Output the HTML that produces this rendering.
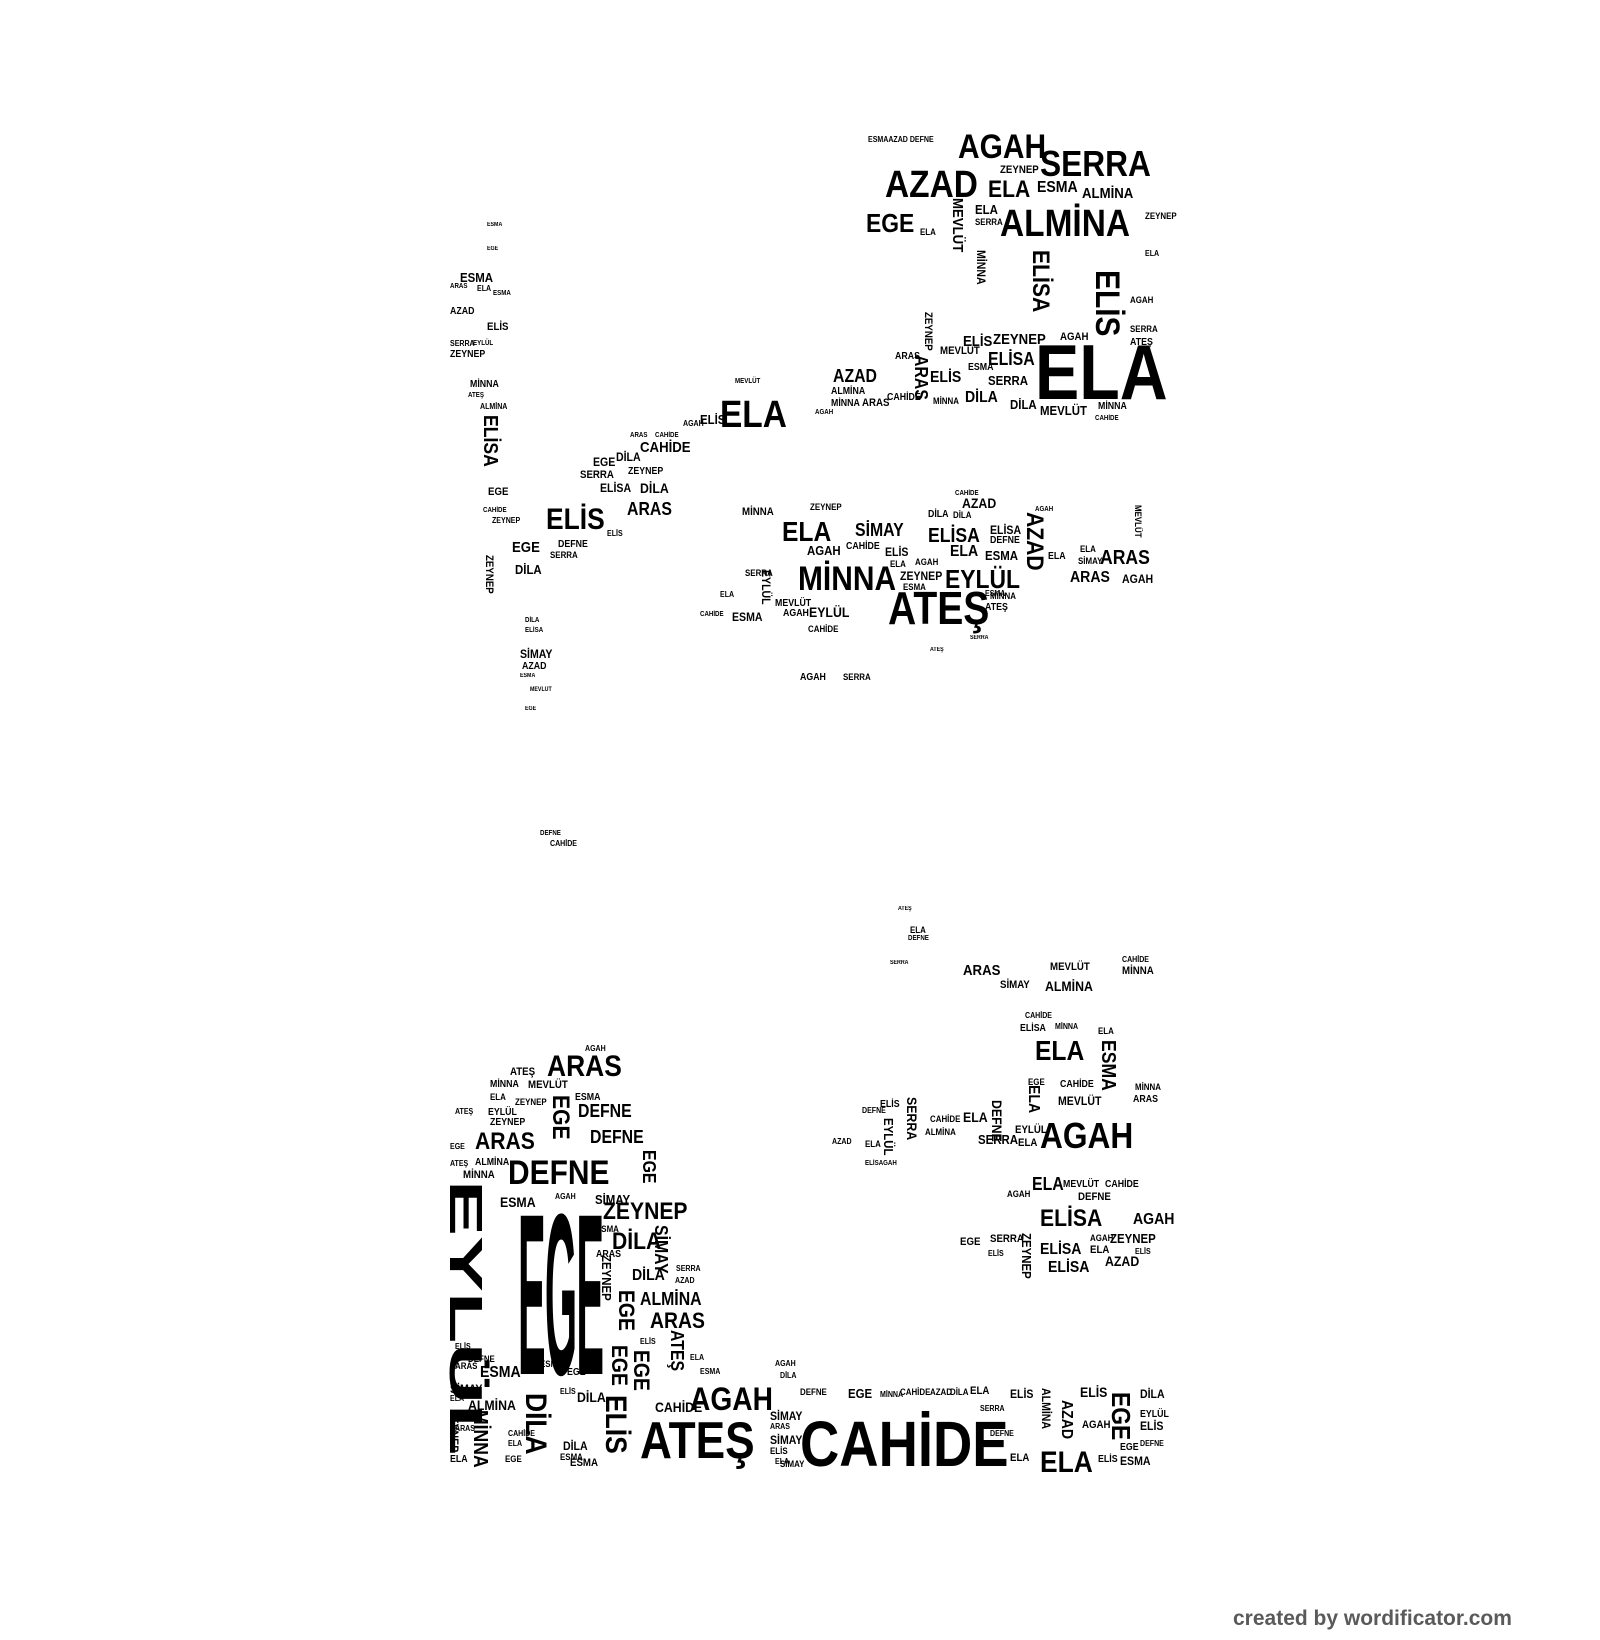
<!DOCTYPE html>
<html><head><meta charset="utf-8">
<style>
html,body{margin:0;padding:0;background:#fff}
body{width:1600px;height:1640px;position:relative;overflow:hidden;font-family:"Liberation Sans Narrow","Liberation Sans",sans-serif;font-weight:bold;color:#000}
.w{position:absolute;line-height:1;white-space:nowrap;transform:scaleX(.88);transform-origin:0 0}
.v{writing-mode:vertical-rl;transform:scaleY(.88)}
</style></head><body>
<!-- top cluster -->
<div class="w" style="left:958px;top:130px;font-size:34px">AGAH</div>
<div class="w" style="left:1040px;top:146px;font-size:36px">SERRA</div>
<div class="w" style="left:885px;top:166px;font-size:38px">AZAD</div>
<div class="w" style="left:988px;top:178px;font-size:24px">ELA</div>
<div class="w" style="left:1037px;top:180px;font-size:16px">ESMA</div>
<div class="w" style="left:1082px;top:186px;font-size:15px">ALMİNA</div>
<div class="w" style="left:866px;top:210px;font-size:26px">EGE</div>
<div class="w" style="left:1000px;top:205px;font-size:38px">ALMİNA</div>
<div class="w v" style="left:950px;top:198px;font-size:15px">MEVLÜT</div>
<div class="w v" style="left:975px;top:250px;font-size:12px">MİNNA</div>
<div class="w v" style="left:1028px;top:250px;font-size:24px">ELİSA</div>
<div class="w v" style="left:1090px;top:270px;font-size:34px">ELİS</div>
<div class="w" style="left:975px;top:203px;font-size:13px">ELA</div>
<div class="w" style="left:975px;top:218px;font-size:9px">SERRA</div>
<div class="w" style="left:920px;top:228px;font-size:9px">ELA</div>
<div class="w" style="left:868px;top:136px;font-size:8px">ESMAAZAD DEFNE</div>
<div class="w" style="left:1000px;top:165px;font-size:11px">ZEYNEP</div>
<div class="w" style="left:1145px;top:212px;font-size:9px">ZEYNEP</div>
<div class="w" style="left:1145px;top:250px;font-size:8px">ELA</div>
<div class="w" style="left:1130px;top:296px;font-size:9px">AGAH</div>
<div class="w" style="left:1130px;top:325px;font-size:9px">SERRA</div>
<div class="w" style="left:1130px;top:338px;font-size:10px">ATEŞ</div>
<div class="w" style="left:1035px;top:333px;font-size:78px;transform:scaleX(.85);transform-origin:0 0">ELA</div>
<div class="w" style="left:993px;top:332px;font-size:15px">ZEYNEP</div>
<div class="w" style="left:1060px;top:332px;font-size:11px">AGAH</div>
<div class="w" style="left:963px;top:334px;font-size:15px">ELİS</div>
<div class="w" style="left:988px;top:350px;font-size:18px">ELİSA</div>
<div class="w" style="left:940px;top:346px;font-size:11px">MEVLÜT</div>
<div class="w v" style="left:922px;top:312px;font-size:11px">ZEYNEP</div>
<div class="w v" style="left:912px;top:355px;font-size:18px">ARAS</div>
<div class="w" style="left:895px;top:352px;font-size:10px">ARAS</div>
<div class="w" style="left:930px;top:370px;font-size:16px">ELİS</div>
<div class="w" style="left:968px;top:363px;font-size:10px">ESMA</div>
<div class="w" style="left:988px;top:374px;font-size:13px">SERRA</div>
<div class="w" style="left:965px;top:390px;font-size:16px">DİLA</div>
<div class="w" style="left:1010px;top:398px;font-size:13px">DİLA</div>
<div class="w" style="left:1040px;top:404px;font-size:13px">MEVLÜT</div>
<div class="w" style="left:1098px;top:402px;font-size:10px">MİNNA</div>
<div class="w" style="left:1095px;top:415px;font-size:7px">CAHİDE</div>
<div class="w" style="left:933px;top:397px;font-size:9px">MİNNA</div>
<div class="w" style="left:887px;top:393px;font-size:10px">CAHİDE</div>
<div class="w" style="left:862px;top:398px;font-size:11px">ARAS</div>
<div class="w" style="left:833px;top:367px;font-size:18px">AZAD</div>
<div class="w" style="left:831px;top:387px;font-size:10px">ALMİNA</div>
<div class="w" style="left:831px;top:399px;font-size:10px">MİNNA</div>
<div class="w" style="left:815px;top:409px;font-size:7px">AGAH</div>
<div class="w" style="left:720px;top:396px;font-size:38px">ELA</div>
<div class="w" style="left:700px;top:413px;font-size:13px">ELİS</div>
<div class="w" style="left:683px;top:420px;font-size:8px">AGAH</div>
<div class="w" style="left:735px;top:378px;font-size:7px">MEVLÜT</div>
<div class="w" style="left:655px;top:432px;font-size:7px">CAHİDE</div>
<div class="w" style="left:630px;top:432px;font-size:7px">ARAS</div>
<div class="w" style="left:640px;top:440px;font-size:15px">CAHİDE</div>
<div class="w" style="left:593px;top:456px;font-size:12px">EGE</div>
<div class="w" style="left:616px;top:451px;font-size:12px">DİLA</div>
<div class="w" style="left:580px;top:470px;font-size:11px">SERRA</div>
<div class="w" style="left:628px;top:467px;font-size:10px">ZEYNEP</div>
<div class="w" style="left:600px;top:482px;font-size:12px">ELİSA</div>
<div class="w" style="left:640px;top:481px;font-size:14px">DİLA</div>
<div class="w" style="left:627px;top:500px;font-size:18px">ARAS</div>
<div class="w" style="left:546px;top:505px;font-size:30px">ELİS</div>
<div class="w" style="left:512px;top:540px;font-size:15px">EGE</div>
<div class="w" style="left:558px;top:540px;font-size:10px">DEFNE</div>
<div class="w" style="left:550px;top:551px;font-size:9px">SERRA</div>
<div class="w" style="left:515px;top:563px;font-size:13px">DİLA</div>
<div class="w" style="left:607px;top:530px;font-size:8px">ELİS</div>
<!-- left tail -->
<div class="w" style="left:487px;top:222px;font-size:6px">ESMA</div>
<div class="w" style="left:487px;top:246px;font-size:6px">EGE</div>
<div class="w" style="left:460px;top:271px;font-size:13px">ESMA</div>
<div class="w" style="left:450px;top:283px;font-size:7px">ARAS</div>
<div class="w" style="left:477px;top:285px;font-size:8px">ELA</div>
<div class="w" style="left:493px;top:290px;font-size:7px">ESMA</div>
<div class="w" style="left:450px;top:307px;font-size:10px">AZAD</div>
<div class="w" style="left:487px;top:322px;font-size:11px">ELİS</div>
<div class="w" style="left:450px;top:340px;font-size:8px">SERRA</div>
<div class="w" style="left:473px;top:340px;font-size:7px">EYLÜL</div>
<div class="w" style="left:450px;top:350px;font-size:10px">ZEYNEP</div>
<div class="w" style="left:470px;top:380px;font-size:10px">MİNNA</div>
<div class="w" style="left:468px;top:392px;font-size:7px">ATEŞ</div>
<div class="w" style="left:480px;top:403px;font-size:8px">ALMİNA</div>
<div class="w v" style="left:480px;top:415px;font-size:20px">ELİSA</div>
<div class="w" style="left:488px;top:487px;font-size:11px">EGE</div>
<div class="w" style="left:483px;top:507px;font-size:7px">CAHİDE</div>
<div class="w" style="left:492px;top:517px;font-size:8px">ZEYNEP</div>
<div class="w v" style="left:483px;top:555px;font-size:11px">ZEYNEP</div>
<div class="w" style="left:525px;top:617px;font-size:7px">DİLA</div>
<div class="w" style="left:525px;top:627px;font-size:7px">ELİSA</div>
<div class="w" style="left:520px;top:648px;font-size:12px">SİMAY</div>
<div class="w" style="left:522px;top:662px;font-size:10px">AZAD</div>
<div class="w" style="left:520px;top:673px;font-size:6px">ESMA</div>
<div class="w" style="left:530px;top:687px;font-size:6px">MEVLÜT</div>
<div class="w" style="left:525px;top:706px;font-size:6px">EGE</div>
<div class="w" style="left:800px;top:673px;font-size:10px">AGAH</div>
<div class="w" style="left:843px;top:673px;font-size:9px">SERRA</div>
<div class="w" style="left:540px;top:830px;font-size:7px">DEFNE</div>
<div class="w" style="left:550px;top:840px;font-size:8px">CAHİDE</div>
<!-- middle cluster -->
<div class="w" style="left:742px;top:507px;font-size:11px">MİNNA</div>
<div class="w" style="left:810px;top:503px;font-size:9px">ZEYNEP</div>
<div class="w" style="left:955px;top:490px;font-size:7px">CAHİDE</div>
<div class="w" style="left:962px;top:496px;font-size:14px">AZAD</div>
<div class="w" style="left:928px;top:510px;font-size:10px">DİLA</div>
<div class="w" style="left:953px;top:511px;font-size:9px">DİLA</div>
<div class="w" style="left:1035px;top:506px;font-size:7px">AGAH</div>
<div class="w" style="left:782px;top:518px;font-size:28px">ELA</div>
<div class="w" style="left:855px;top:521px;font-size:18px">SİMAY</div>
<div class="w" style="left:928px;top:526px;font-size:20px">ELİSA</div>
<div class="w" style="left:990px;top:524px;font-size:12px">ELİSA</div>
<div class="w" style="left:990px;top:536px;font-size:10px">DEFNE</div>
<div class="w v" style="left:1022px;top:512px;font-size:24px">AZAD</div>
<div class="w v" style="left:1133px;top:505px;font-size:9px">MEVLÜT</div>
<div class="w" style="left:807px;top:544px;font-size:13px">AGAH</div>
<div class="w" style="left:846px;top:542px;font-size:10px">CAHİDE</div>
<div class="w" style="left:885px;top:546px;font-size:12px">ELİS</div>
<div class="w" style="left:950px;top:544px;font-size:16px">ELA</div>
<div class="w" style="left:985px;top:549px;font-size:13px">ESMA</div>
<div class="w" style="left:1048px;top:552px;font-size:10px">ELA</div>
<div class="w" style="left:1080px;top:545px;font-size:9px">ELA</div>
<div class="w" style="left:1100px;top:548px;font-size:20px">ARAS</div>
<div class="w" style="left:1078px;top:557px;font-size:9px">SİMAY</div>
<div class="w" style="left:890px;top:560px;font-size:9px">ELA</div>
<div class="w" style="left:915px;top:558px;font-size:9px">AGAH</div>
<div class="w" style="left:798px;top:562px;font-size:34px">MİNNA</div>
<div class="w" style="left:900px;top:570px;font-size:12px">ZEYNEP</div>
<div class="w" style="left:945px;top:566px;font-size:26px">EYLÜL</div>
<div class="w" style="left:1070px;top:570px;font-size:16px">ARAS</div>
<div class="w" style="left:1122px;top:573px;font-size:12px">AGAH</div>
<div class="w" style="left:745px;top:569px;font-size:9px">SERRA</div>
<div class="w v" style="left:760px;top:570px;font-size:12px">EYLÜL</div>
<div class="w" style="left:888px;top:585px;font-size:46px;transform:scaleX(.85)">ATEŞ</div>
<div class="w" style="left:903px;top:583px;font-size:9px">ESMA</div>
<div class="w" style="left:990px;top:592px;font-size:9px">MİNNA</div>
<div class="w" style="left:985px;top:603px;font-size:10px">ATEŞ</div>
<div class="w" style="left:985px;top:590px;font-size:8px">ESMA</div>
<div class="w" style="left:720px;top:591px;font-size:8px">ELA</div>
<div class="w" style="left:775px;top:599px;font-size:10px">MEVLÜT</div>
<div class="w" style="left:783px;top:609px;font-size:10px">AGAH</div>
<div class="w" style="left:809px;top:605px;font-size:14px">EYLÜL</div>
<div class="w" style="left:732px;top:611px;font-size:12px">ESMA</div>
<div class="w" style="left:700px;top:611px;font-size:7px">CAHİDE</div>
<div class="w" style="left:808px;top:625px;font-size:9px">CAHİDE</div>
<div class="w" style="left:930px;top:647px;font-size:6px">ATEŞ</div>
<div class="w" style="left:970px;top:635px;font-size:6px">SERRA</div>
<!-- right middle cluster -->
<div class="w" style="left:898px;top:906px;font-size:6px">ATEŞ</div>
<div class="w" style="left:908px;top:935px;font-size:7px">DEFNE</div>
<div class="w" style="left:910px;top:926px;font-size:9px">ELA</div>
<div class="w" style="left:890px;top:960px;font-size:6px">SERRA</div>
<div class="w" style="left:963px;top:963px;font-size:15px">ARAS</div>
<div class="w" style="left:1050px;top:962px;font-size:11px">MEVLÜT</div>
<div class="w" style="left:1122px;top:956px;font-size:8px">CAHİDE</div>
<div class="w" style="left:1122px;top:966px;font-size:11px">MİNNA</div>
<div class="w" style="left:1000px;top:980px;font-size:11px">SİMAY</div>
<div class="w" style="left:1045px;top:979px;font-size:14px">ALMİNA</div>
<div class="w" style="left:1025px;top:1012px;font-size:8px">CAHİDE</div>
<div class="w" style="left:1020px;top:1024px;font-size:10px">ELİSA</div>
<div class="w" style="left:1055px;top:1023px;font-size:8px">MİNNA</div>
<div class="w" style="left:1098px;top:1027px;font-size:9px">ELA</div>
<div class="w" style="left:1035px;top:1037px;font-size:28px">ELA</div>
<div class="w v" style="left:1098px;top:1040px;font-size:20px">ESMA</div>
<div class="w" style="left:1028px;top:1078px;font-size:9px">EGE</div>
<div class="w" style="left:1060px;top:1080px;font-size:10px">CAHİDE</div>
<div class="w v" style="left:1025px;top:1085px;font-size:16px">ELA</div>
<div class="w" style="left:1058px;top:1095px;font-size:12px">MEVLÜT</div>
<div class="w" style="left:1135px;top:1083px;font-size:9px">MİNNA</div>
<div class="w" style="left:1133px;top:1095px;font-size:10px">ARAS</div>
<div class="w" style="left:1040px;top:1118px;font-size:36px">AGAH</div>
<div class="w" style="left:880px;top:1100px;font-size:10px">ELİS</div>
<div class="w" style="left:862px;top:1107px;font-size:8px">DEFNE</div>
<div class="w v" style="left:905px;top:1097px;font-size:14px">SERRA</div>
<div class="w" style="left:963px;top:1110px;font-size:14px">ELA</div>
<div class="w v" style="left:990px;top:1100px;font-size:14px">DEFNE</div>
<div class="w v" style="left:882px;top:1118px;font-size:13px">EYLÜL</div>
<div class="w" style="left:930px;top:1115px;font-size:9px">CAHİDE</div>
<div class="w" style="left:925px;top:1128px;font-size:9px">ALMİNA</div>
<div class="w" style="left:1015px;top:1125px;font-size:11px">EYLÜL</div>
<div class="w" style="left:978px;top:1133px;font-size:13px">SERRA</div>
<div class="w" style="left:1018px;top:1138px;font-size:11px">ELA</div>
<div class="w" style="left:832px;top:1138px;font-size:8px">AZAD</div>
<div class="w" style="left:865px;top:1140px;font-size:9px">ELA</div>
<div class="w" style="left:865px;top:1160px;font-size:7px">ELİSAGAH</div>
<div class="w" style="left:1032px;top:1175px;font-size:18px">ELA</div>
<div class="w" style="left:1063px;top:1180px;font-size:10px">MEVLÜT</div>
<div class="w" style="left:1105px;top:1180px;font-size:10px">CAHİDE</div>
<div class="w" style="left:1007px;top:1190px;font-size:9px">AGAH</div>
<div class="w" style="left:1078px;top:1192px;font-size:11px">DEFNE</div>
<div class="w" style="left:1040px;top:1207px;font-size:24px">ELİSA</div>
<div class="w" style="left:1133px;top:1212px;font-size:16px">AGAH</div>
<div class="w" style="left:1090px;top:1234px;font-size:9px">AGAH</div>
<div class="w" style="left:1110px;top:1232px;font-size:13px">ZEYNEP</div>
<div class="w" style="left:960px;top:1237px;font-size:11px">EGE</div>
<div class="w" style="left:990px;top:1234px;font-size:11px">SERRA</div>
<div class="w v" style="left:1020px;top:1233px;font-size:13px">ZEYNEP</div>
<div class="w" style="left:1040px;top:1242px;font-size:16px">ELİSA</div>
<div class="w" style="left:1090px;top:1245px;font-size:11px">ELA</div>
<div class="w" style="left:1105px;top:1254px;font-size:14px">AZAD</div>
<div class="w" style="left:1048px;top:1260px;font-size:16px">ELİSA</div>
<div class="w" style="left:988px;top:1250px;font-size:8px">ELİS</div>
<div class="w" style="left:1135px;top:1248px;font-size:8px">ELİS</div>
<!-- bottom left L -->
<div class="w" style="left:585px;top:1045px;font-size:8px">AGAH</div>
<div class="w" style="left:547px;top:1052px;font-size:30px">ARAS</div>
<div class="w" style="left:510px;top:1067px;font-size:11px">ATEŞ</div>
<div class="w" style="left:490px;top:1080px;font-size:10px">MİNNA</div>
<div class="w" style="left:528px;top:1080px;font-size:11px">MEVLÜT</div>
<div class="w" style="left:490px;top:1093px;font-size:9px">ELA</div>
<div class="w" style="left:515px;top:1098px;font-size:9px">ZEYNEP</div>
<div class="w" style="left:575px;top:1093px;font-size:10px">ESMA</div>
<div class="w" style="left:578px;top:1102px;font-size:18px">DEFNE</div>
<div class="w v" style="left:548px;top:1095px;font-size:24px">EGE</div>
<div class="w" style="left:488px;top:1108px;font-size:10px">EYLÜL</div>
<div class="w" style="left:455px;top:1108px;font-size:8px">ATEŞ</div>
<div class="w" style="left:490px;top:1118px;font-size:10px">ZEYNEP</div>
<div class="w" style="left:475px;top:1130px;font-size:24px">ARAS</div>
<div class="w" style="left:590px;top:1128px;font-size:18px">DEFNE</div>
<div class="w" style="left:450px;top:1143px;font-size:8px">EGE</div>
<div class="w" style="left:450px;top:1160px;font-size:8px">ATEŞ</div>
<div class="w" style="left:475px;top:1158px;font-size:10px">ALMİNA</div>
<div class="w" style="left:508px;top:1156px;font-size:34px">DEFNE</div>
<div class="w v" style="left:640px;top:1150px;font-size:18px">EGE</div>
<div class="w" style="left:463px;top:1170px;font-size:11px">MİNNA</div>
<div class="w" style="left:500px;top:1195px;font-size:14px">ESMA</div>
<div class="w" style="left:555px;top:1193px;font-size:8px">AGAH</div>
<div class="w" style="left:595px;top:1193px;font-size:13px">SİMAY</div>
<div class="w" style="left:443px;top:1180px;font-size:84px;transform:scaleX(.55);transform-origin:0 0;writing-mode:vertical-rl">EYLÜL</div>
<div class="w" style="left:518px;top:1180px;font-size:230px;transform:scaleX(.18);transform-origin:0 0;letter-spacing:-4px">EGE</div>
<div class="w" style="left:603px;top:1200px;font-size:24px">ZEYNEP</div>
<div class="w" style="left:612px;top:1230px;font-size:24px">DİLA</div>
<div class="w" style="left:596px;top:1225px;font-size:9px">ESMA</div>
<div class="w" style="left:596px;top:1250px;font-size:10px">ARAS</div>
<div class="w v" style="left:600px;top:1255px;font-size:13px">ZEYNEP</div>
<div class="w v" style="left:652px;top:1225px;font-size:18px">SİMAY</div>
<div class="w" style="left:632px;top:1268px;font-size:16px">DİLA</div>
<div class="w" style="left:676px;top:1265px;font-size:8px">SERRA</div>
<div class="w" style="left:675px;top:1277px;font-size:8px">AZAD</div>
<div class="w" style="left:640px;top:1290px;font-size:18px">ALMİNA</div>
<div class="w v" style="left:615px;top:1290px;font-size:22px">EGE</div>
<div class="w" style="left:650px;top:1310px;font-size:22px">ARAS</div>
<div class="w v" style="left:668px;top:1330px;font-size:18px">ATEŞ</div>
<div class="w" style="left:690px;top:1354px;font-size:8px">ELA</div>
<div class="w" style="left:640px;top:1338px;font-size:8px">ELİS</div>
<div class="w" style="left:455px;top:1343px;font-size:8px">ELİS</div>
<div class="w" style="left:468px;top:1355px;font-size:9px">DEFNE</div>
<div class="w" style="left:455px;top:1362px;font-size:9px">ARAS</div>
<div class="w" style="left:480px;top:1365px;font-size:16px">ESMA</div>
<div class="w" style="left:540px;top:1360px;font-size:9px">ESMA</div>
<div class="w" style="left:567px;top:1368px;font-size:10px">EGE</div>
<div class="w v" style="left:608px;top:1345px;font-size:22px">EGE</div>
<div class="w v" style="left:630px;top:1350px;font-size:22px">EGE</div>
<div class="w" style="left:700px;top:1368px;font-size:8px">ESMA</div>
<div class="w" style="left:450px;top:1383px;font-size:12px">SİMAY</div>
<div class="w" style="left:450px;top:1395px;font-size:8px">ELA</div>
<div class="w" style="left:468px;top:1398px;font-size:14px">ALMİNA</div>
<div class="w" style="left:577px;top:1390px;font-size:14px">DİLA</div>
<div class="w" style="left:560px;top:1388px;font-size:8px">ELİS</div>
<div class="w v" style="left:520px;top:1393px;font-size:30px">DİLA</div>
<div class="w v" style="left:600px;top:1395px;font-size:30px">ELİS</div>
<div class="w v" style="left:470px;top:1410px;font-size:20px">MİNNA</div>
<div class="w v" style="left:448px;top:1410px;font-size:12px">ZEYNEP</div>
<div class="w" style="left:655px;top:1400px;font-size:14px">CAHİDE</div>
<div class="w" style="left:690px;top:1383px;font-size:32px">AGAH</div>
<div class="w" style="left:775px;top:1360px;font-size:8px">AGAH</div>
<div class="w" style="left:780px;top:1372px;font-size:8px">DİLA</div>
<div class="w" style="left:508px;top:1430px;font-size:8px">CAHİDE</div>
<div class="w" style="left:508px;top:1440px;font-size:8px">ELA</div>
<div class="w" style="left:455px;top:1425px;font-size:8px">ARAS</div>
<div class="w" style="left:450px;top:1455px;font-size:10px">ELA</div>
<div class="w" style="left:505px;top:1455px;font-size:9px">EGE</div>
<div class="w" style="left:563px;top:1440px;font-size:12px">DİLA</div>
<div class="w" style="left:560px;top:1453px;font-size:9px">ESMA</div>
<div class="w" style="left:570px;top:1458px;font-size:11px">ESMA</div>
<div class="w" style="left:640px;top:1415px;font-size:52px;transform:scaleX(.85)">ATEŞ</div>
<div class="w" style="left:770px;top:1410px;font-size:12px">SİMAY</div>
<div class="w" style="left:770px;top:1423px;font-size:8px">ARAS</div>
<div class="w" style="left:770px;top:1434px;font-size:12px">SİMAY</div>
<div class="w" style="left:770px;top:1447px;font-size:9px">ELİS</div>
<div class="w" style="left:775px;top:1458px;font-size:8px">ELA</div>
<div class="w" style="left:780px;top:1460px;font-size:9px">SİMAY</div>
<div class="w" style="left:800px;top:1412px;font-size:64px;transform:scaleX(.85);transform-origin:0 0">CAHİDE</div>
<div class="w" style="left:800px;top:1388px;font-size:9px">DEFNE</div>
<div class="w" style="left:848px;top:1387px;font-size:13px">EGE</div>
<div class="w" style="left:880px;top:1391px;font-size:8px">MİNNA</div>
<div class="w" style="left:900px;top:1388px;font-size:9px">CAHİDE</div>
<div class="w" style="left:930px;top:1388px;font-size:9px">AZAD</div>
<div class="w" style="left:950px;top:1388px;font-size:9px">DİLA</div>
<div class="w" style="left:970px;top:1386px;font-size:11px">ELA</div>
<div class="w" style="left:1010px;top:1388px;font-size:12px">ELİS</div>
<div class="w" style="left:980px;top:1405px;font-size:8px">SERRA</div>
<div class="w" style="left:990px;top:1430px;font-size:8px">DEFNE</div>
<div class="w v" style="left:1040px;top:1388px;font-size:12px">ALMİNA</div>
<div class="w v" style="left:1058px;top:1400px;font-size:16px">AZAD</div>
<div class="w" style="left:1080px;top:1385px;font-size:14px">ELİS</div>
<div class="w v" style="left:1108px;top:1392px;font-size:26px">EGE</div>
<div class="w" style="left:1140px;top:1388px;font-size:12px">DİLA</div>
<div class="w" style="left:1082px;top:1420px;font-size:11px">AGAH</div>
<div class="w" style="left:1140px;top:1410px;font-size:10px">EYLÜL</div>
<div class="w" style="left:1140px;top:1420px;font-size:12px">ELİS</div>
<div class="w" style="left:1140px;top:1440px;font-size:8px">DEFNE</div>
<div class="w" style="left:1010px;top:1453px;font-size:11px">ELA</div>
<div class="w" style="left:1040px;top:1448px;font-size:30px">ELA</div>
<div class="w" style="left:1098px;top:1455px;font-size:10px">ELİS</div>
<div class="w" style="left:1120px;top:1455px;font-size:12px">ESMA</div>
<div class="w" style="left:1120px;top:1443px;font-size:10px">EGE</div>
<!-- footer -->
<div class="w" style="left:1233px;top:1608px;font-size:21px;color:#5a5a5a;font-family:'Liberation Sans',sans-serif;transform:none">created by wordificator.com</div>
</body></html>
